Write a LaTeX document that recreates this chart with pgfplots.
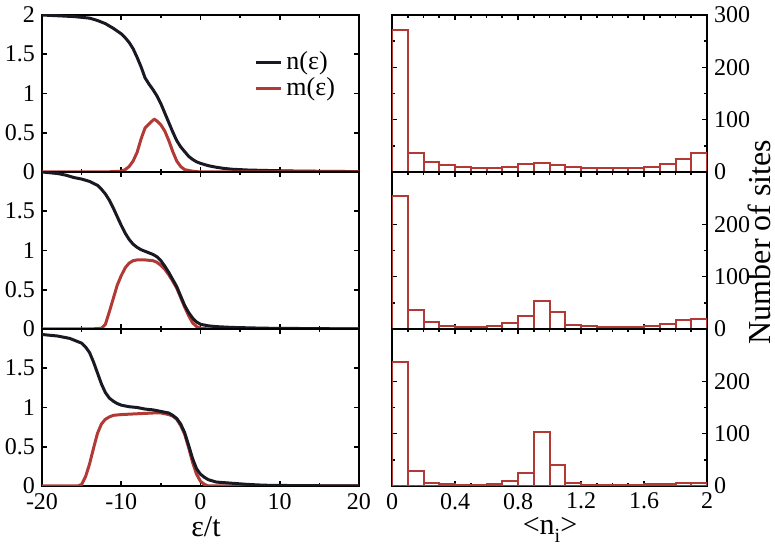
\documentclass[border=0pt]{standalone}
\usepackage{fontspec}
\setmainfont{Liberation Serif}
\usepackage{pgfplots}
\pgfplotsset{compat=1.18}
\definecolor{myred}{RGB}{178,58,52}
\definecolor{myblack}{RGB}{25,25,35}

\pgfplotstableread{
x y
0.0 272
0.1 36
0.2 20
0.3 13
0.4 10
0.5 7
0.6 7
0.7 10
0.8 15
0.9 17
1.0 13
1.1 10
1.2 8
1.3 7
1.4 7
1.5 7
1.6 10
1.7 15
1.8 24
1.9 36
2.0 36
}\histA
\pgfplotstableread{
x y
0.0 255
0.1 37
0.2 13
0.3 6
0.4 3
0.5 3
0.6 5
0.7 11
0.8 25
0.9 53
1.0 32
1.1 8
1.2 5
1.3 4
1.4 3
1.5 3
1.6 5
1.7 10
1.8 18
1.9 19
2.0 19
}\histB
\pgfplotstableread{
x y
0.0 236
0.1 29
0.2 6
0.3 3
0.4 2
0.5 2
0.6 4
0.7 9
0.8 25
0.9 104
1.0 41
1.1 5
1.2 2
1.3 2
1.4 2
1.5 2
1.6 3
1.7 4
1.8 5
1.9 6
2.0 6
}\histC

\pgfplotsset{
  panel/.style={scale only axis, anchor=south west,
    axis line style={line width=1.3pt},
    tick style={line width=0.8pt, black},
    tick align=inside, major tick length=2.5pt, minor tick length=1.5pt,
    /pgf/number format/assume math mode=true,
    tick label style={font=\fontsize{12}{12}\selectfont},
    clip=true},
  leftpanel/.style={panel, width=158.5pt, height=78.5pt,
    xmin=-20, xmax=20, ymin=0, ymax=2,
    xtick={-20,-10,0,10,20}, minor xtick={-15,-5,5,15}},
  rightpanel/.style={panel, width=157.5pt, height=78.5pt,
    xmin=0, xmax=2, ymin=0, ymax=300,
    xtick={0,0.4,0.8,1.2,1.6,2}, minor x tick num=3,
    minor y tick num=1, yticklabel pos=right},
  ncurve/.style={myblack, line width=1.5pt},
  mcurve/.style={myred, line width=1.5pt},
  hist/.style={ybar interval, draw=myred, fill=none, line width=1pt},
}

\begin{document}
\begin{tikzpicture}
\useasboundingbox (0pt,0pt) rectangle (387.5pt,272.5pt);

% ---------- top left ----------
\begin{axis}[leftpanel, at={(21pt,186.5pt)}, xticklabels={},
  ytick={0,0.5,1,1.5,2},
  legend style={at={(axis cs:6.0,1.64)}, anchor=north west, draw=none, fill=none,
    font=\fontsize{13}{13}\selectfont, row sep=-1.5pt},
  legend cell align=left,
  legend image code/.code={\draw[#1] (0pt,0pt) -- (12.5pt,0pt);}]
\addplot[ncurve] coordinates {
(-20,2.0) (-18,1.99) (-16,1.98) (-14,1.96) (-13,1.93) (-12,1.89) (-11,1.83)
(-10,1.76) (-9.5,1.71) (-9,1.65) (-8.5,1.57) (-8,1.46) (-7.5,1.34) (-7,1.20)
(-6.5,1.12) (-6,1.05) (-5.5,0.97) (-5,0.87) (-4.5,0.75) (-4,0.63) (-3.5,0.51)
(-3,0.40) (-2.5,0.32) (-2,0.26) (-1.5,0.20) (-1,0.16) (-0.5,0.13) (0,0.11)
(1,0.08) (2,0.06) (3,0.045) (4,0.035) (6,0.025) (8,0.02) (12,0.012) (16,0.008) (20,0.005)};
\addlegendentry{n(ε)}
\addplot[mcurve] coordinates {
(-20,0) (-12,0) (-10,0.01) (-9.5,0.03) (-9,0.07) (-8.5,0.14) (-8,0.25) (-7.5,0.42)
(-7,0.56) (-6.5,0.61) (-6,0.66) (-5.8,0.67) (-5.5,0.65) (-5,0.60) (-4.5,0.52)
(-4,0.40) (-3.5,0.26) (-3,0.14) (-2.5,0.07) (-2,0.03) (-1,0.01) (0,0) (20,0)};
\addlegendentry{m(ε)}
\end{axis}

% ---------- middle left ----------
\begin{axis}[leftpanel, at={(21pt,108pt)}, xticklabels={},
  ytick={0,0.5,1,1.5}]
\addplot[mcurve] coordinates {
(-20,0) (-14,0) (-13,0.005) (-12.5,0.01) (-12,0.06) (-11.5,0.22) (-11,0.39)
(-10.5,0.56) (-10,0.68) (-9.5,0.78) (-9,0.84) (-8.5,0.87) (-8,0.88) (-7,0.88)
(-6,0.87) (-5.5,0.85) (-5,0.81) (-4.5,0.76) (-4,0.69) (-3.5,0.61) (-3,0.52)
(-2.5,0.40) (-2,0.28) (-1.5,0.17) (-1,0.08) (-0.5,0.03) (0,0.01) (1,0) (20,0)};
\addplot[ncurve] coordinates {
(-20,2.0) (-18,1.98) (-17,1.96) (-16,1.93) (-15,1.91) (-14,1.88) (-13,1.83)
(-12.5,1.78) (-12,1.72) (-11.5,1.64) (-11,1.54) (-10.5,1.43) (-10,1.32)
(-9.5,1.22) (-9,1.14) (-8.5,1.08) (-8,1.04) (-7.5,1.01) (-7,0.99) (-6.5,0.97)
(-6,0.95) (-5.5,0.92) (-5,0.87) (-4.5,0.80) (-4,0.72) (-3.5,0.63) (-3,0.54)
(-2.5,0.42) (-2,0.30) (-1.5,0.21) (-1,0.14) (-0.5,0.09) (0,0.06) (1,0.04)
(2,0.03) (4,0.02) (8,0.01) (14,0.005) (20,0)};
\end{axis}

% ---------- bottom left ----------
\begin{axis}[leftpanel, at={(21pt,29.5pt)},
  ytick={0,0.5,1,1.5}]
\addplot[mcurve] coordinates {
(-20,0) (-15.5,0) (-15,0.02) (-14.5,0.12) (-14,0.28) (-13.5,0.48) (-13,0.67)
(-12.5,0.79) (-12,0.85) (-11.5,0.88) (-11,0.90) (-10,0.91) (-8,0.92) (-6,0.93)
(-5,0.93) (-4,0.91) (-3.5,0.89) (-3,0.85) (-2.5,0.77) (-2,0.66) (-1.5,0.49)
(-1,0.30) (-0.5,0.15) (0,0.06) (0.5,0.02) (1,0) (20,0)};
\addplot[ncurve] coordinates {
(-20,1.93) (-18,1.91) (-16.5,1.88) (-16,1.86) (-15.5,1.84) (-15,1.82) (-14.5,1.77)
(-14,1.70) (-13.5,1.58) (-13,1.44) (-12.5,1.30) (-12,1.19) (-11.5,1.12) (-11,1.08)
(-10.5,1.05) (-10,1.03) (-9,1.01) (-8,1.00) (-7,0.98) (-6,0.97) (-5,0.95)
(-4,0.93) (-3.5,0.90) (-3,0.86) (-2.5,0.79) (-2,0.68) (-1.5,0.52) (-1,0.35)
(-0.5,0.22) (0,0.15) (0.5,0.11) (1,0.08) (2,0.05) (4,0.035) (6,0.02) (8,0.01)
(12,0.005) (20,0)};
\end{axis}

% ---------- right panels ----------
\begin{axis}[rightpanel, at={(196pt,186.5pt)}, xticklabels={},
  ytick={0,100,200,300}]
\addplot[hist] table[x=x, y=y] {\histA};
\end{axis}
\begin{axis}[rightpanel, at={(196pt,108pt)}, xticklabels={},
  ytick={0,100,200}]
\addplot[hist] table[x=x, y=y] {\histB};
\end{axis}
\begin{axis}[rightpanel, at={(196pt,29.5pt)},
  ytick={0,100,200}]
\addplot[hist] table[x=x, y=y] {\histC};
\end{axis}

% ---------- labels ----------
\node[anchor=base, font=\fontsize{15}{15}\selectfont, inner sep=0pt] at (103pt,4pt) {ε/t};
\node[anchor=base, font=\fontsize{15}{15}\selectfont, inner sep=0pt] at (275pt,5pt)
  {<n\raisebox{-0.55ex}{\fontsize{10}{10}\selectfont i}>};
\node[rotate=90, font=\fontsize{16}{16}\selectfont, inner sep=0pt] at (379.5pt,151.5pt) {Number of sites};
\end{tikzpicture}
\end{document}
